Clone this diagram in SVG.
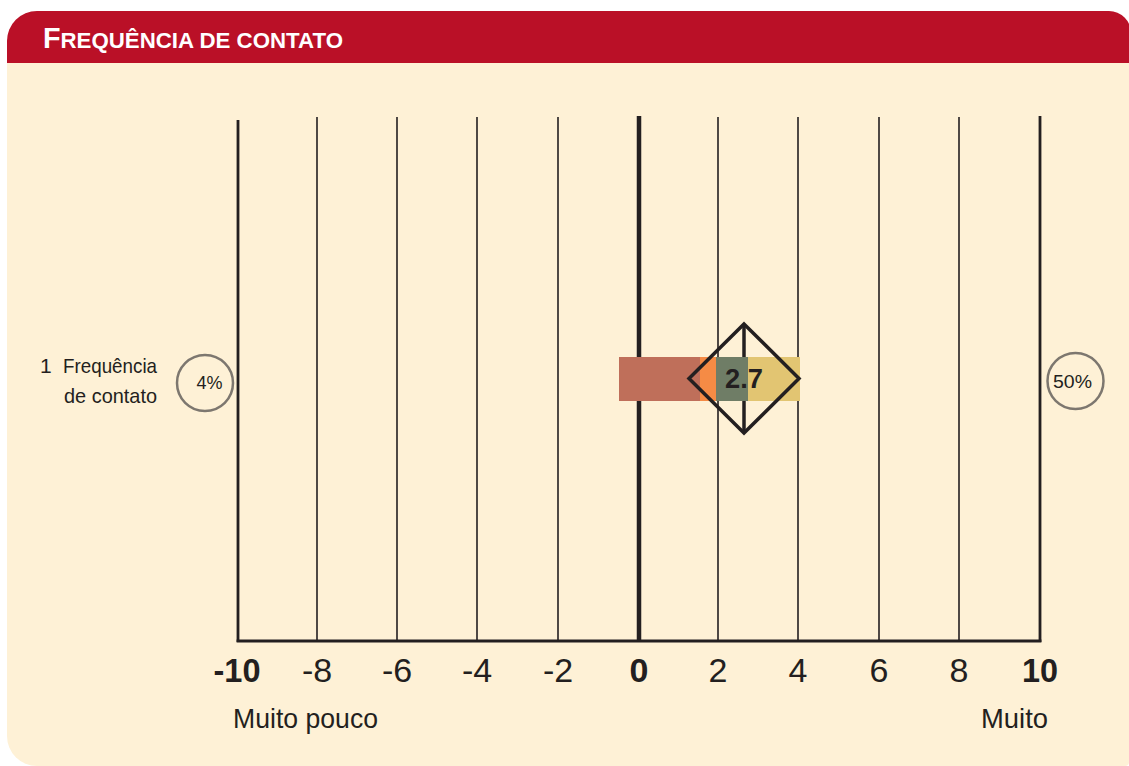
<svg xmlns="http://www.w3.org/2000/svg" width="1129" height="766" viewBox="0 0 1129 766">
  <style>
    .t { font-family: "Liberation Sans", Arial, sans-serif; fill: #231F20; }
    .grid { stroke: #231F20; stroke-width: 1.6; }
    .major { stroke: #231F20; stroke-width: 2.8; }
    .ax { font-size: 34px; text-anchor: middle; }
    .b { font-weight: bold; }
    .pct { fill: none; stroke: #7D776F; stroke-width: 2.5; }
  </style>
  <rect width="1129" height="766" fill="#FFFFFF"/>
  <g id="panel">
    <path d="M7,63 H1129 V762 Q1129,766 1125,766 H37 A30,30 0 0 1 7,736 Z" fill="#FEF1D6"/>
    <path d="M7,63 V41 A30,30 0 0 1 37,11 H1109 A22,22 0 0 1 1131,33 V63 Z" fill="#BA1027"/>
    <text x="43" y="48" textLength="300" lengthAdjust="spacingAndGlyphs" font-family="Liberation Sans, Arial, sans-serif" font-weight="bold" fill="#FFFFFF"><tspan font-size="29">F</tspan><tspan font-size="22.5">REQUÊNCIA DE CONTATO</tspan></text>
  </g>
  <g id="grid">
    <line class="major" x1="238" y1="120" x2="238" y2="642"/>
    <line class="grid" x1="317" y1="117" x2="317" y2="641"/>
    <line class="grid" x1="397" y1="117" x2="397" y2="641"/>
    <line class="grid" x1="477" y1="117" x2="477" y2="641"/>
    <line class="grid" x1="558" y1="117" x2="558" y2="641"/>
    <line x1="639" y1="116" x2="639" y2="641" stroke="#231F20" stroke-width="4.5"/>
    <line class="grid" x1="718" y1="117" x2="718" y2="641"/>
    <line class="grid" x1="798" y1="117" x2="798" y2="641"/>
    <line class="grid" x1="879" y1="117" x2="879" y2="641"/>
    <line class="grid" x1="959" y1="117" x2="959" y2="641"/>
    <line class="major" x1="1040" y1="116" x2="1040" y2="642"/>
    <line x1="236.6" y1="641" x2="1041.4" y2="641" stroke="#231F20" stroke-width="3"/>
  </g>
  <g id="axis-labels">
    <text class="t ax b" x="237" y="682" textLength="47" lengthAdjust="spacingAndGlyphs">-10</text>
    <text class="t ax" x="317" y="682">-8</text>
    <text class="t ax" x="397" y="682">-6</text>
    <text class="t ax" x="477" y="682">-4</text>
    <text class="t ax" x="558" y="682">-2</text>
    <text class="t ax b" x="639" y="682">0</text>
    <text class="t ax" x="718" y="682">2</text>
    <text class="t ax" x="798" y="682">4</text>
    <text class="t ax" x="879" y="682">6</text>
    <text class="t ax" x="959" y="682">8</text>
    <text class="t ax b" x="1040" y="682" textLength="36" lengthAdjust="spacingAndGlyphs">10</text>
    <text class="t" x="233" y="728" font-size="28" textLength="145" lengthAdjust="spacingAndGlyphs">Muito pouco</text>
    <text class="t" x="981" y="728" font-size="28" textLength="67" lengthAdjust="spacingAndGlyphs">Muito</text>
  </g>
  <g id="row-label">
    <text class="t" x="40" y="373" font-size="21">1</text>
    <text class="t" x="157" y="373" font-size="21" text-anchor="end" textLength="94" lengthAdjust="spacingAndGlyphs">Frequência</text>
    <text class="t" x="157" y="403" font-size="21" text-anchor="end" textLength="93" lengthAdjust="spacingAndGlyphs">de contato</text>
  </g>
  <g id="left-pct">
    <circle class="pct" cx="205" cy="383" r="28"/>
    <text class="t" x="209.5" y="388.5" font-size="18" text-anchor="middle">4%</text>
  </g>
  <g id="right-pct">
    <circle class="pct" cx="1075.5" cy="381" r="28"/>
    <text class="t" x="1072.5" y="387.5" font-size="18" text-anchor="middle" textLength="39" lengthAdjust="spacingAndGlyphs">50%</text>
  </g>
  <g id="marker">
    <line x1="744" y1="324" x2="744" y2="433" stroke="#231F20" stroke-width="3.5"/>
    <rect x="619" y="357" width="81" height="44" fill="#BF6F5A"/>
    <rect x="700" y="357" width="16" height="44" fill="#F58B45"/>
    <rect x="716" y="357" width="32" height="44" fill="#6F7D66"/>
    <rect x="748" y="357" width="52" height="44" fill="#E2C572"/>
    <path d="M744,324 L799,378.5 L744,433 L689,378.5 Z" fill="none" stroke="#231F20" stroke-width="3.5" stroke-linejoin="miter"/>
    <text class="t b" x="744" y="387.5" font-size="27" text-anchor="middle" textLength="38" lengthAdjust="spacingAndGlyphs">2.7</text>
  </g>
</svg>
